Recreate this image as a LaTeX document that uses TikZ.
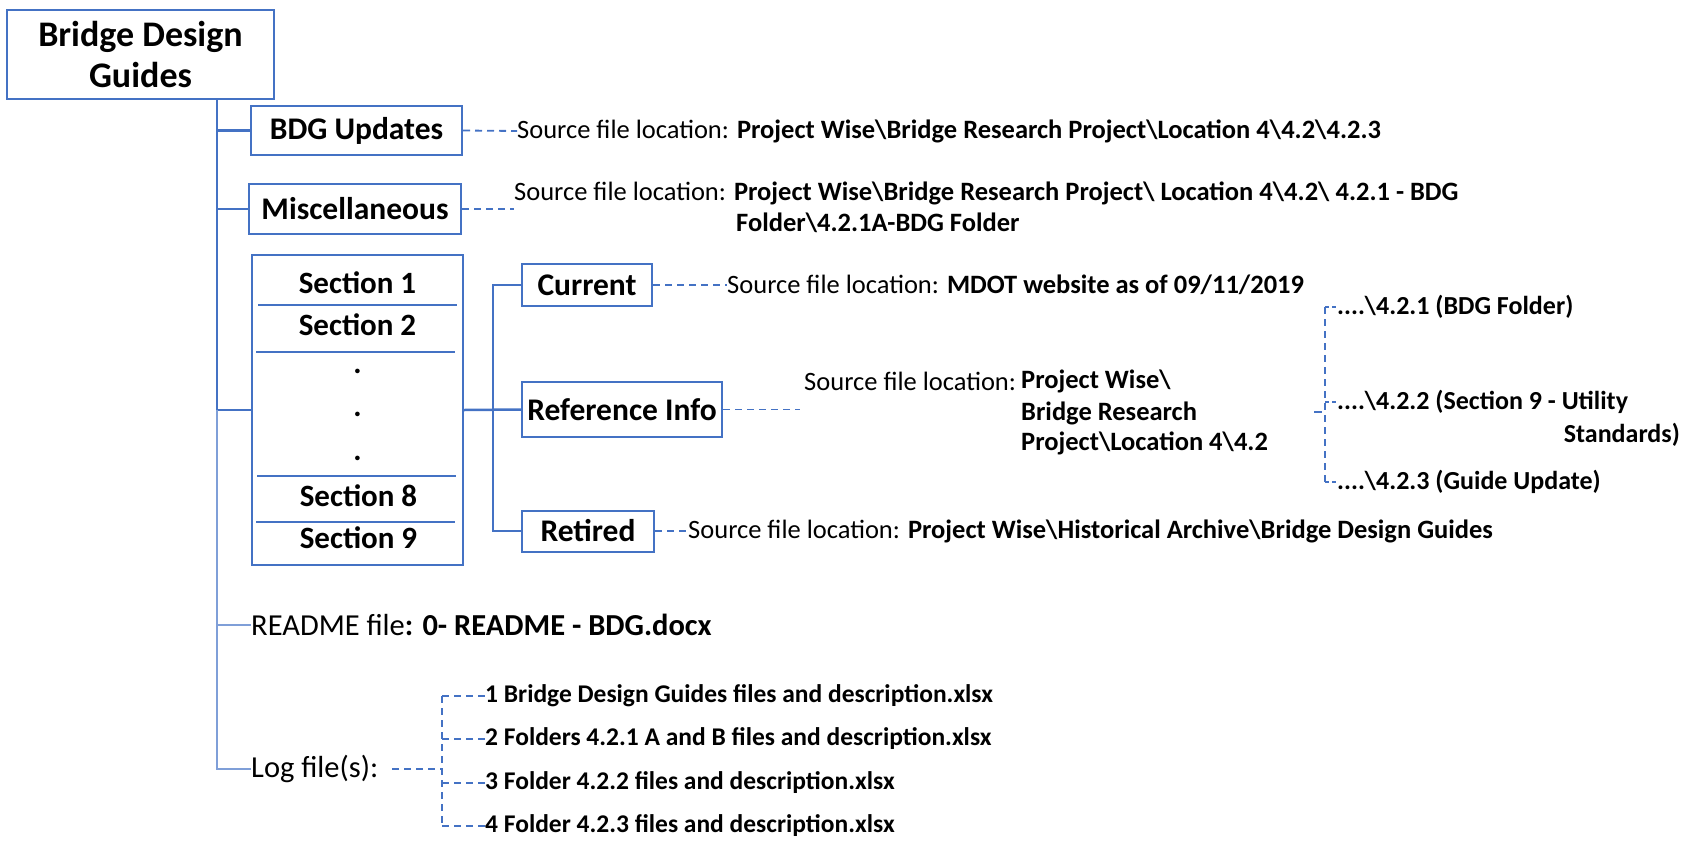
\documentclass[tikz,border=0pt]{standalone}
\usepackage{fontspec}
\setmainfont{Carlito}
\definecolor{boxblue}{HTML}{4472C4}
\definecolor{lightblue}{HTML}{7F9FD8}
\newcommand{\bs}{\textbackslash}
\begin{document}
\begin{tikzpicture}[x=1pt,y=-1pt,
  box/.style={draw=boxblue,line width=2pt,inner sep=0pt,anchor=center,
    font=\fontsize{31.5}{36}\selectfont\bfseries},
  seclabel/.style={inner sep=0pt,anchor=center,font=\fontsize{31}{36}\selectfont\bfseries},
  tree/.style={draw=boxblue,line width=2.5pt},
  thinbranch/.style={draw=lightblue,line width=1.3pt},
  srcdash/.style={draw=boxblue,line width=1.8pt,dash pattern=on 7pt off 5pt},
  tickdash/.style={draw=boxblue,line width=1.5pt,dash pattern=on 7pt off 5pt},
  logdash/.style={draw=boxblue,line width=2.6pt,dash pattern=on 7pt off 5pt},
  divider/.style={draw=boxblue,line width=1.2pt},
  src/.style={anchor=west,inner sep=0pt,font=\fontsize{26.5}{32}\selectfont},
  srcbold/.style={anchor=west,inner sep=0pt,font=\fontsize{26.5}{32}\selectfont\bfseries},
  sub/.style={anchor=west,inner sep=0pt,font=\fontsize{26}{31}\selectfont\bfseries},
  item/.style={anchor=west,inner sep=0pt,font=\fontsize{25.5}{30}\selectfont\bfseries},
  note/.style={anchor=west,inner sep=0pt,font=\fontsize{30.5}{36}\selectfont},
]
\useasboundingbox (0,0) rectangle (1696,846);

% root
\node[draw=boxblue,line width=2pt,minimum width=267pt,minimum height=89pt,align=center,
  inner sep=0pt,font=\fontsize{36}{40}\selectfont\bfseries] (title) at (140.5,54.5)
  {Bridge Design\\Guides};
\coordinate (tr) at (217,0);

% first-level boxes
\node[box,minimum width=211pt,minimum height=49pt] (bdg) at (356.5,130.5) {BDG Updates};
\node[box,minimum width=212pt,minimum height=50pt] (misc) at (355,209) {Miscellaneous};
\node[box,minimum width=211pt,minimum height=310pt] (sec) at (357.5,410) {};

% sections stacked in the section box
\node[seclabel] (s1) at (357.5,283) {Section 1};
\node[seclabel] (s2) at (357.5,325) {Section 2};
\node[seclabel] (d1) at (357.5,371) {.};
\node[seclabel] (d2) at (357.5,414) {.};
\node[seclabel] (d3) at (357.5,458) {.};
\node[seclabel] (s8) at (358.5,496) {Section 8};
\node[seclabel] (s9) at (358.5,538) {Section 9};
\draw[divider] (258,305) -- (457,305);
\draw[divider] (256,352) -- (455,352);
\draw[divider] (257,476) -- (456,476);
\draw[divider] (256,522) -- (455,522);

% second-level boxes
\node[box,minimum width=130pt,minimum height=42pt] (cur) at (587,285) {Current};
\node[box,minimum width=200pt,minimum height=55pt] (ref) at (622,409.5) {Reference Info};
\node[box,minimum width=132pt,minimum height=41pt] (ret) at (588,531) {Retired};

% tree lines
\draw[tree] (title.south -| tr) -- (sec.west -| tr);
\draw[tree] (bdg.west -| tr) -- (bdg.west);
\draw[tree] (misc.west -| tr) -- (misc.west);
\draw[tree] (sec.west -| tr) -- (sec.west);
\coordinate (bus) at (493,0);
\draw[tree] (sec.east) -- (ref.west);
\draw[tree] (cur.west) -- (cur.west -| bus) -- (ret.west -| bus) -- (ret.west);

% source locations
\node[src] (bsrc) at (517,131) {Source file location: \textbf{Project Wise\bs Bridge Research Project\bs Location 4\bs 4.2\bs 4.2.3}};
\draw[srcdash] (bdg.east) -- (bsrc.west);

\node[src] (msrc) at (514,193) {Source file location: \textbf{Project Wise\bs Bridge Research Project\bs\ Location 4\bs 4.2\bs\ 4.2.1 - BDG}};
\node[srcbold] (msrc2) at (736,223) {Folder\bs 4.2.1A-BDG Folder};
\draw[srcdash] (misc.east) -- (misc.east -| msrc.west);

\node[src] (csrc) at (727,285) {Source file location: \textbf{MDOT website as of 09/11/2019}};
\draw[srcdash] (cur.east) -- (csrc.west);

\node[src] (rsrc) at (804,381) {Source file location:};
\node[srcbold] (rsrc1) at (1021,381) {Project Wise\bs};
\node[srcbold] (rsrc2) at (1021,413) {Bridge Research};
\node[srcbold] (rsrc3) at (1021,443) {Project\bs Location 4\bs 4.2};
\coordinate (refend) at (800,409.5);
\draw[srcdash] (ref.east) -- (refend);

% sub-folders of 4.2
\coordinate (bk) at (1325,412);
\node[sub] (r1) at (1337,307) {....\bs 4.2.1 (BDG Folder)};
\node[sub] (r2) at (1337,402) {....\bs 4.2.2 (Section 9 - Utility};
\node[anchor=east,inner sep=0pt,font=\fontsize{26}{31}\selectfont\bfseries] (r2b) at (1680,435) {Standards)};
\node[sub] (r3) at (1337,482) {....\bs 4.2.3 (Guide Update)};
\draw[tickdash,dash pattern=on 8pt off 2pt] ([xshift=-11pt]bk) -- ([xshift=-2pt]bk);
\draw[tickdash] (r1.west -| bk) -- (r3.west -| bk);
\draw[tickdash,dash pattern=on 4pt off 3pt] (r1.west -| bk) -- (r1.west);
\draw[tickdash,dash pattern=on 4pt off 3pt] (r2.west -| bk) -- (r2.west);
\draw[tickdash,dash pattern=on 4pt off 3pt] (r3.west -| bk) -- (r3.west);

\node[src] (tsrc) at (688,531) {Source file location: \textbf{Project Wise\bs Historical Archive\bs Bridge Design Guides}};
\draw[srcdash] (ret.east) -- (tsrc.west);

% README and log files
\node[note] (readme) at (251,625) {README file\textbf{: 0- README - BDG.docx}};
\node[note] (log) at (251,769) {Log file(s):};
\draw[thinbranch] (sec.west -| tr) -- (log.west -| tr) -- (log.west);
\draw[thinbranch] (readme.west -| tr) -- (readme.west);

\coordinate (lb) at (442,769);
\node[item] (l1) at (485,696) {1 Bridge Design Guides files and description.xlsx};
\node[item] (l2) at (485,739) {2 Folders 4.2.1 A and B files and description.xlsx};
\node[item] (l3) at (485,783) {3 Folder 4.2.2 files and description.xlsx};
\node[item] (l4) at (485,826) {4 Folder 4.2.3 files and description.xlsx};
\draw[logdash] ([xshift=14pt]log.east) -- (lb);
\draw[tickdash] (l1.west -| lb) -- (l4.west -| lb);
\foreach \n in {l1,l2,l3,l4}
  \draw[tickdash] (\n.west -| lb) -- (\n.west);
\end{tikzpicture}
\end{document}
